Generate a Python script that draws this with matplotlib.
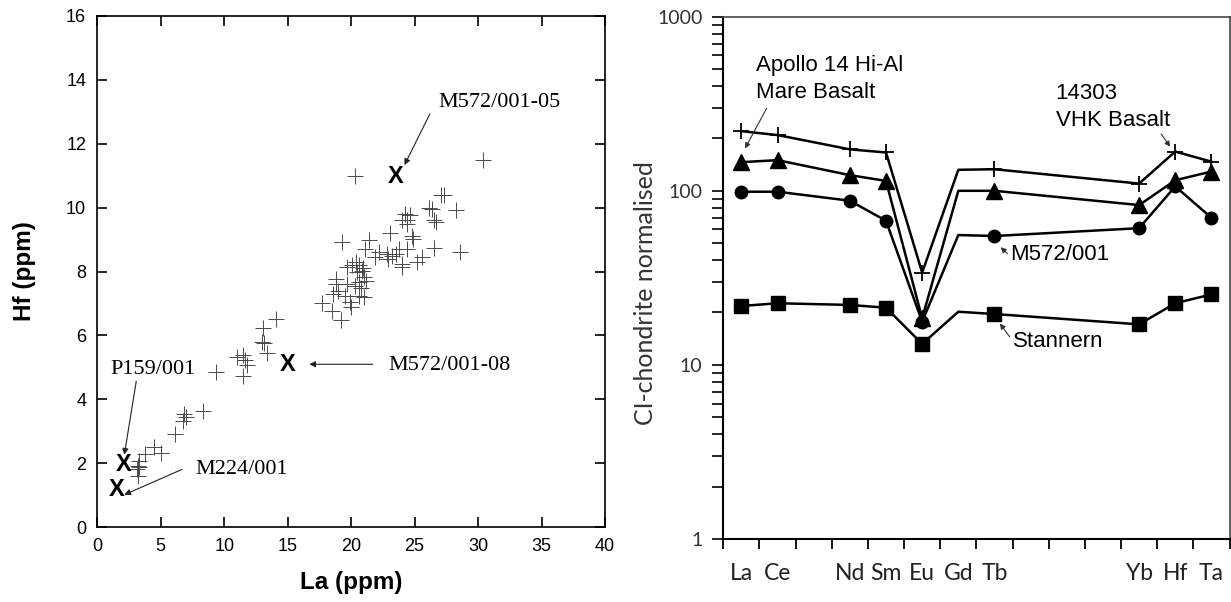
import numpy as np
import matplotlib
matplotlib.use("Agg")
import matplotlib.pyplot as plt
from matplotlib.ticker import FixedLocator, NullFormatter, LogLocator

# ---------------- Left panel data: Hf vs La ----------------
la_ppm = [30.4, 20.3, 27.3, 26.1, 28.3, 26.5, 24.25, 24.0, 24.4, 23.1, 24.8, 24.9, 21.4, 19.3,
          26.5, 28.6, 21.1, 22.2, 24.4, 22.8, 23.2, 23.5, 21.9, 22.9, 24.0, 24.0, 25.2, 25.6,
          20.1, 19.7, 20.6, 20.85, 20.45, 21.0, 18.8, 18.8, 20.6, 20.3, 19.7, 18.6, 19.5, 20.6,
          17.7, 19.9, 18.5, 19.2, 14.05, 13.06, 20.4, 20.9, 21.2, 20.8, 21.0, 19.0, 20.0, 23.8,
          24.4, 24.6, 26.7, 26.4, 27.1,
          13.0, 13.1, 13.4, 11.5, 11.0, 11.6, 11.8, 11.5, 9.35, 8.3, 6.86, 7.0, 6.73, 6.16,
          4.5, 5.03, 3.73, 3.28, 3.2, 3.3, 3.1, 3.2]
hf_ppm = [11.48, 10.99, 10.4, 9.99, 9.91, 9.6, 9.81, 9.6, 9.5, 9.21, 9.11, 9.03, 9.0, 8.92,
          8.74, 8.61, 8.71, 8.61, 8.71, 8.56, 8.5, 8.56, 8.45, 8.4, 8.25, 8.14, 8.3, 8.45,
          8.19, 8.14, 8.19, 8.03, 7.98, 7.83, 7.78, 7.62, 7.67, 7.56, 7.62, 7.3, 7.25, 7.25,
          7.02, 7.05, 6.78, 6.49, 6.52, 6.23, 8.3, 8.1, 7.7, 7.5, 7.2, 7.4, 6.9, 8.7,
          9.62, 9.78, 9.56, 9.96, 10.38,
          5.79, 5.75, 5.46, 5.4, 5.32, 5.22, 5.08, 4.72, 4.87, 3.65, 3.55, 3.45, 3.34, 2.91,
          2.5, 2.33, 2.3, 2.06, 1.93, 1.88, 1.83, 1.62]

sample_names = ["M572/001-05", "M572/001-08", "P159/001", "M224/001"]
sample_la = [23.5, 15.0, 2.1, 1.5]
sample_hf = [10.98, 5.1, 1.98, 1.18]
# label text position (left, centre) and arrow start/end
label_pos = [(26.9, 13.3), (22.9, 5.05), (1.0, 4.93), (7.7, 1.8)]
arrow_from = [(26.2, 12.93), (21.7, 5.1), (3.07, 4.57), (6.67, 1.81)]
arrow_to = [(24.2, 11.33), (16.7, 5.1), (2.13, 2.27), (2.13, 1.02)]

# ---------------- Right panel data: chondrite-normalised ----------------
cat_labels = ["La", "Ce", "", "Nd", "Sm", "Eu", "Gd", "Tb", "", "", "", "Yb", "Hf", "Ta"]
elements = ["La", "Ce", "Nd", "Sm", "Eu", "Gd", "Tb", "Yb", "Hf", "Ta"]
vhk_14303 = [220, 209, 173, 166, 33.9, 132, 133, 110, 168, 147]
apollo14_hial = [146, 150, 123, 114, 18.5, 100, 100, 82.8, 115, 129]
m572_001 = [98.8, 98.8, 87.7, 67.3, 17.7, 55.7, 55.0, 61.0, 106, 70.0]
stannern = [21.8, 22.6, 22.1, 21.3, 13.2, 20.2, 19.6, 17.1, 22.6, 25.4]

W, H = 1231, 602
fig = plt.figure(figsize=(W / 100, H / 100), dpi=100)

# ---------------- Left axes ----------------
axL = fig.add_axes([97.3 / W, 1 - 527.3 / H, 507.7 / W, 511.5 / H])
axL.plot(la_ppm, hf_ppm, linestyle="none", marker="+", markersize=12,
         markeredgewidth=0.7, color="#4a4a4a")
for x, y in zip(sample_la, sample_hf):
    axL.text(x, y, "X", fontsize=17, fontweight="bold", family="Liberation Sans",
             ha="center", va="center", color="black")
for name, (tx, ty), a0, a1 in zip(sample_names, label_pos, arrow_from, arrow_to):
    axL.text(tx, ty, name, fontsize=16, family="Liberation Serif", ha="left", va="center")
    axL.annotate("", xy=a1, xytext=a0,
                 arrowprops=dict(arrowstyle="-|>", lw=0.8, color="#222222",
                                 mutation_scale=9, shrinkA=0, shrinkB=0))
axL.set_xlim(0, 40)
axL.set_ylim(0, 16)
axL.set_xticks(np.arange(0, 41, 5))
axL.set_yticks(np.arange(0, 17, 2))
axL.tick_params(direction="in", length=7, width=1.2, top=True, right=True,
                labelsize=13, pad=8)
for lbl in axL.get_xticklabels() + axL.get_yticklabels():
    lbl.set_family("Liberation Sans")
for s in axL.spines.values():
    s.set_linewidth(1.2)
axL.set_xlabel("La (ppm)", fontsize=17.5, fontweight="bold", family="Liberation Sans")
axL.set_ylabel("Hf (ppm)", fontsize=17.5, fontweight="bold", family="Liberation Sans")
axL.xaxis.set_label_coords(0.5, -0.085)
axL.yaxis.set_label_coords(-0.121, 0.5)

# ---------------- Right axes ----------------
axR = fig.add_axes([723.3 / W, 1 - 539 / H, 506.2 / W, 522.3 / H])
xpos = [cat_labels.index(e) for e in elements]
mark_idx = [i for i, e in enumerate(elements) if e != "Gd"]
series = [
    (vhk_14303, "+", 12, 1.3),
    (apollo14_hial, "^", 12, 1.0),
    (m572_001, "o", 9, 1.0),
    (stannern, "s", 9.5, 1.0),
]
for vals, mk, ms, mew in series:
    axR.plot(xpos, vals, color="black", lw=1.8, marker=mk, markersize=ms,
             markeredgewidth=mew, markerfacecolor="black", markeredgecolor="black",
             markevery=mark_idx)
axR.set_yscale("log")
axR.set_ylim(1, 1000)
axR.set_xlim(-0.5, len(cat_labels) - 0.5)
axR.yaxis.set_major_locator(LogLocator(base=10, numticks=10))
axR.yaxis.set_minor_locator(LogLocator(base=10, subs=np.arange(2, 10), numticks=10))
axR.yaxis.set_minor_formatter(NullFormatter())
axR.set_yticks([1, 10, 100, 1000])
axR.set_yticklabels(["1", "10", "100", "1000"])
axR.xaxis.set_major_locator(FixedLocator(np.arange(-0.5, len(cat_labels), 1.0)))
axR.xaxis.set_major_formatter(NullFormatter())
axR.xaxis.set_minor_locator(FixedLocator(np.arange(len(cat_labels))))
axR.set_xticklabels(cat_labels, minor=True)
axR.tick_params(axis="x", which="major", direction="out", length=7, width=1.3)
axR.tick_params(axis="x", which="minor", length=0, labelsize=16.5, pad=17)
axR.tick_params(axis="y", which="both", direction="out", length=8, width=1.2,
                labelsize=14, pad=7, colors="black")
axR.tick_params(axis="y", which="major", labelcolor="#333333")
axR.tick_params(axis="x", which="minor", labelcolor="#222222")
for lbl in axR.get_yticklabels() + axR.get_xticklabels(minor=True):
    lbl.set_family("Lato")
for side in ["left", "bottom"]:
    axR.spines[side].set_linewidth(1.5)
    axR.spines[side].set_color("black")
for side in ["top", "right"]:
    axR.spines[side].set_linewidth(1.2)
    axR.spines[side].set_color("#444444")
axR.set_ylabel("CI-chondrite normalised", fontsize=18, family="Lato", color="#333333")
axR.yaxis.set_label_coords(-0.131, 0.47)

r_labels = ["Apollo 14 Hi-Al\nMare Basalt", "14303\nVHK Basalt", "M572/001", "Stannern"]
r_label_pos = [(0.40, 439), (8.69, 304), (7.44, 42.8), (7.5, 13.6)]
r_arrow_from = [(0.70, 298), (11.61, 212), (7.36, 43.5), (7.42, 14.5)]
r_arrow_to = [(0.10, 175), (11.86, 179), (7.17, 47.4), (7.15, 17.3)]
for name, (tx, ty), a0, a1 in zip(r_labels, r_label_pos, r_arrow_from, r_arrow_to):
    axR.text(tx, ty, name, fontsize=16, family="Liberation Sans", ha="left",
             va="center", linespacing=1.38)
    axR.annotate("", xy=a1, xytext=a0,
                 arrowprops=dict(arrowstyle="-|>", lw=0.8, color="#333333",
                                 mutation_scale=8, shrinkA=0, shrinkB=0))

fig.savefig("out.png", dpi=100)
